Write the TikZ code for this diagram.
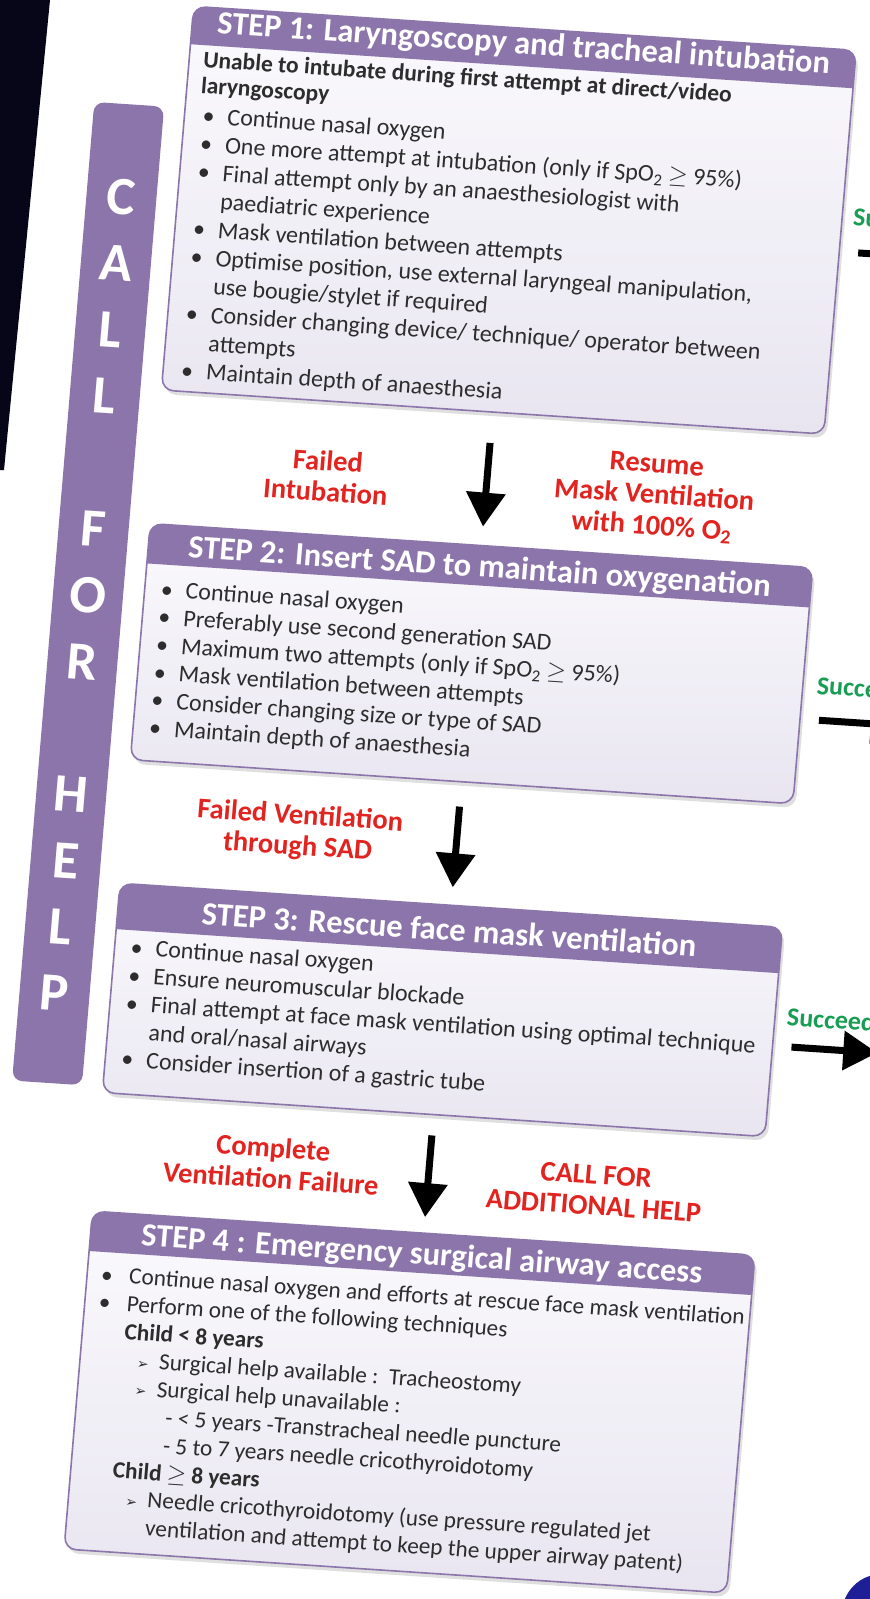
\documentclass[tikz,border=0pt]{standalone}
\usepackage{fontspec}
\setmainfont{Carlito}
\newfontfamily\dejavu{DejaVu Sans}
\usetikzlibrary{arrows.meta}
\definecolor{purp}{RGB}{140,117,170}
\definecolor{boxtop}{RGB}{251,250,253}
\definecolor{boxbot}{RGB}{232,229,240}
\definecolor{redlab}{RGB}{226,36,32}
\definecolor{greenlab}{RGB}{24,158,82}
\definecolor{bodytxt}{RGB}{45,45,45}
\definecolor{darkbg}{RGB}{6,6,24}
\definecolor{blobblue}{RGB}{30,30,150}
\newcommand{\bl}{\makebox[25pt][l]{\textbullet}}
\newcommand{\bll}{\makebox[28pt][l]{\textbullet}}
\newcommand{\arr}{\makebox[22pt][l]{\dejavu\fontsize{14}{14}\selectfont ➢}}
\begin{document}
\begin{tikzpicture}[x=1pt,y=-1pt,
  stepbox/.style={line width=1.6pt, rounded corners=12pt, anchor=north west, inner sep=0pt, outer sep=0pt, top color=boxtop, bottom color=boxbot},
  frame/.style={draw=purp, line width=1.6pt, rounded corners=12pt},
  shadowbox/.style={fill=gray, opacity=0.25, rounded corners=12pt},
  headtext/.style={anchor=base, inner sep=0pt, text=white, font=\bfseries\fontsize{32.5}{36}\selectfont},
  bodytext/.style={anchor=north west, inner sep=0pt, align=left, text=bodytxt, font=\fontsize{24}{28.4}\selectfont},
  redtext/.style={inner sep=0pt, align=center, text=redlab, font=\bfseries\fontsize{28.5}{31}\selectfont},
  greentext/.style={anchor=west, inner sep=0pt, text=greenlab, font=\bfseries\fontsize{26}{30}\selectfont},
  bigarrow/.style={line width=7pt, draw=black, -{Triangle[length=34pt,width=38pt]}},
  helpbar/.style={fill=purp, rounded corners=10pt, anchor=north west, inner sep=0pt, outer sep=0pt}
]
\useasboundingbox (0,0) rectangle (870,1599);
\fill[white] (0,0) rectangle (870,1599);
\clip (0,0) rectangle (870,1599);
\fill[darkbg] (0,0) -- (50,0) -- (4,470) -- (0,470) -- cycle;
\fill[blobblue] (882,1614) circle (40);
\begin{scope}[cm={0.9978,-0.0663,0.0837,0.9965,(67.92pt,26.04pt)}, every node/.append style={transform shape}]
% CALL FOR HELP bar
\node[helpbar, minimum width=70pt, minimum height=982pt] (help) at (37,126) {};
\node[inner sep=0pt, align=center, text=white, font=\bfseries\fontsize{54}{66.6}\selectfont] (helptxt) at (72,618.5) {C\\A\\L\\L\\~\\F\\O\\R\\~\\H\\E\\L\\P};
% STEP 1
\fill[shadowbox] (131,28) rectangle (795,413);
\node[stepbox, minimum width=664pt, minimum height=385pt] (s1) at (128,24) {};
\begin{scope}\clip[rounded corners=12pt] (128,24) rectangle (792,409); \fill[purp] (128,24) rectangle (792,62); \end{scope}
\draw[frame] (128,24) rectangle (792,409);
\node[headtext] (h1) at (460,49.5) {STEP 1: Laryngoscopy and tracheal intubation};
\node[bodytext, font=\bfseries\fontsize{23.5}{26}\selectfont] (b1) at (142,67) {\rule{0pt}{17pt}Unable to intubate during first attempt at direct/video\\laryngoscopy};
\node[bodytext] (t1) at (146,123) {\rule{0pt}{17pt}\bl Continue nasal oxygen\\
\bl One more attempt at intubation (only if SpO\textsubscript{2} $\geq$ 95\%)\\
\bl Final attempt only by an anaesthesiologist with\\
\hspace*{25pt}paediatric experience\\
\bl Mask ventilation between attempts\\
\bl Optimise position, use external laryngeal manipulation,\\
\hspace*{25pt}use bougie/stylet if required\\
\bl Consider changing device/ technique/ operator between\\
\hspace*{25pt}attempts\\
\bl Maintain depth of anaesthesia};
% STEP 2
\fill[shadowbox] (131,547) rectangle (795,784);
\node[stepbox, minimum width=664pt, minimum height=237pt] (s2) at (128,543) {};
\begin{scope}\clip[rounded corners=12pt] (128,543) rectangle (792,780); \fill[purp] (128,543) rectangle (792,583); \end{scope}
\draw[frame] (128,543) rectangle (792,780);
\node[headtext] (h2) at (460,574.5) {STEP 2: Insert SAD to maintain oxygenation};
\node[bodytext, font=\fontsize{24}{27.8}\selectfont] (t2) at (144,598.5) {\rule{0pt}{17pt}\bl Continue nasal oxygen\\
\bl Preferably use second generation SAD\\
\bl Maximum two attempts (only if SpO\textsubscript{2} $\geq$ 95\%)\\
\bl Mask ventilation between attempts\\
\bl Consider changing size or type of SAD\\
\bl Maintain depth of anaesthesia};
% STEP 3
\fill[shadowbox] (131,908) rectangle (795,1118);
\node[stepbox, minimum width=664pt, minimum height=210pt] (s3) at (128,904) {};
\begin{scope}\clip[rounded corners=12pt] (128,904) rectangle (792,1114); \fill[purp] (128,904) rectangle (792,950); \end{scope}
\draw[frame] (128,904) rectangle (792,1114);
\node[headtext] (h3) at (460,939.5) {STEP 3: Rescue face mask ventilation};
\node[bodytext, font=\fontsize{24}{28}\selectfont] (t3) at (144,958) {\rule{0pt}{17pt}\bl Continue nasal oxygen\\
\bl Ensure neuromuscular blockade\\
\bl Final attempt at face mask ventilation using optimal technique\\
\hspace*{25pt}and oral/nasal airways\\
\bl Consider insertion of a gastric tube};
% STEP 4
\fill[shadowbox] (131,1237) rectangle (795,1576);
\node[stepbox, minimum width=664pt, minimum height=339pt] (s4) at (128,1233) {};
\begin{scope}\clip[rounded corners=12pt] (128,1233) rectangle (792,1572); \fill[purp] (128,1233) rectangle (792,1273); \end{scope}
\draw[frame] (128,1233) rectangle (792,1572);
\node[headtext] (h4) at (460,1264.5) {STEP 4 : Emergency surgical airway access};
\node[bodytext, font=\fontsize{23.3}{27.8}\selectfont] (t4) at (142,1286) {\rule{0pt}{17pt}\bll Continue nasal oxygen and efforts at rescue face mask ventilation\\
\bll Perform one of the following techniques\\
\hspace*{28pt}\textbf{Child < 8 years}\\
\hspace*{43pt}\arr Surgical help available :\ \ Tracheostomy\\
\hspace*{43pt}\arr Surgical help unavailable :\\
\hspace*{76pt}- < 5 years -Transtracheal needle puncture\\
\hspace*{76pt}- 5 to 7 years needle cricothyroidotomy\\
\hspace*{28pt}\textbf{Child $\geq$ 8 years}\\
\hspace*{43pt}\arr Needle cricothyroidotomy (use pressure regulated jet\\
\hspace*{65pt}ventilation and attempt to keep the upper airway patent)};
% red labels
\node[redtext] (l1) at (300,484) {Failed\\Intubation};
\node[redtext] (l2) at (628,483) {Resume\\Mask Ventilation\\with 100\% O\textsubscript{2}};
\node[redtext] (l3) at (302,841) {Failed Ventilation\\through SAD};
\node[redtext] (l4) at (303,1173) {Complete\\Ventilation Failure};
\node[redtext] (l5) at (627,1179) {CALL FOR\\ADDITIONAL HELP};
% down arrows
\draw[bigarrow, shorten <=31pt, shorten >=19pt] (s1.south) -- (s2.north);
\draw[bigarrow, shorten <=25pt, shorten >=18pt] (s2.south) -- (s3.north);
\draw[bigarrow, shorten <=21pt, shorten >=16pt] (s3.south) -- (s4.north);
% right side (cut off)
\node[greentext] (g1) at (803,190) {Succeed};
\node[greentext] (g2) at (806,660) {Succeed};
\node[greentext] (g3) at (804,993) {Succeed};
\coordinate (r1a) at (811,226); \coordinate (r1b) at (897,226);
\coordinate (r2a) at (811,695); \coordinate (r2b) at (897,695);
\coordinate (r3a) at (811,1023); \coordinate (r3b) at (897,1023);
\draw[bigarrow] (r1a) -- (r1b);
\draw[bigarrow] (r2a) -- (r2b);
\draw[bigarrow] (r3a) -- (r3b);
\end{scope}
\end{tikzpicture}
\end{document}
